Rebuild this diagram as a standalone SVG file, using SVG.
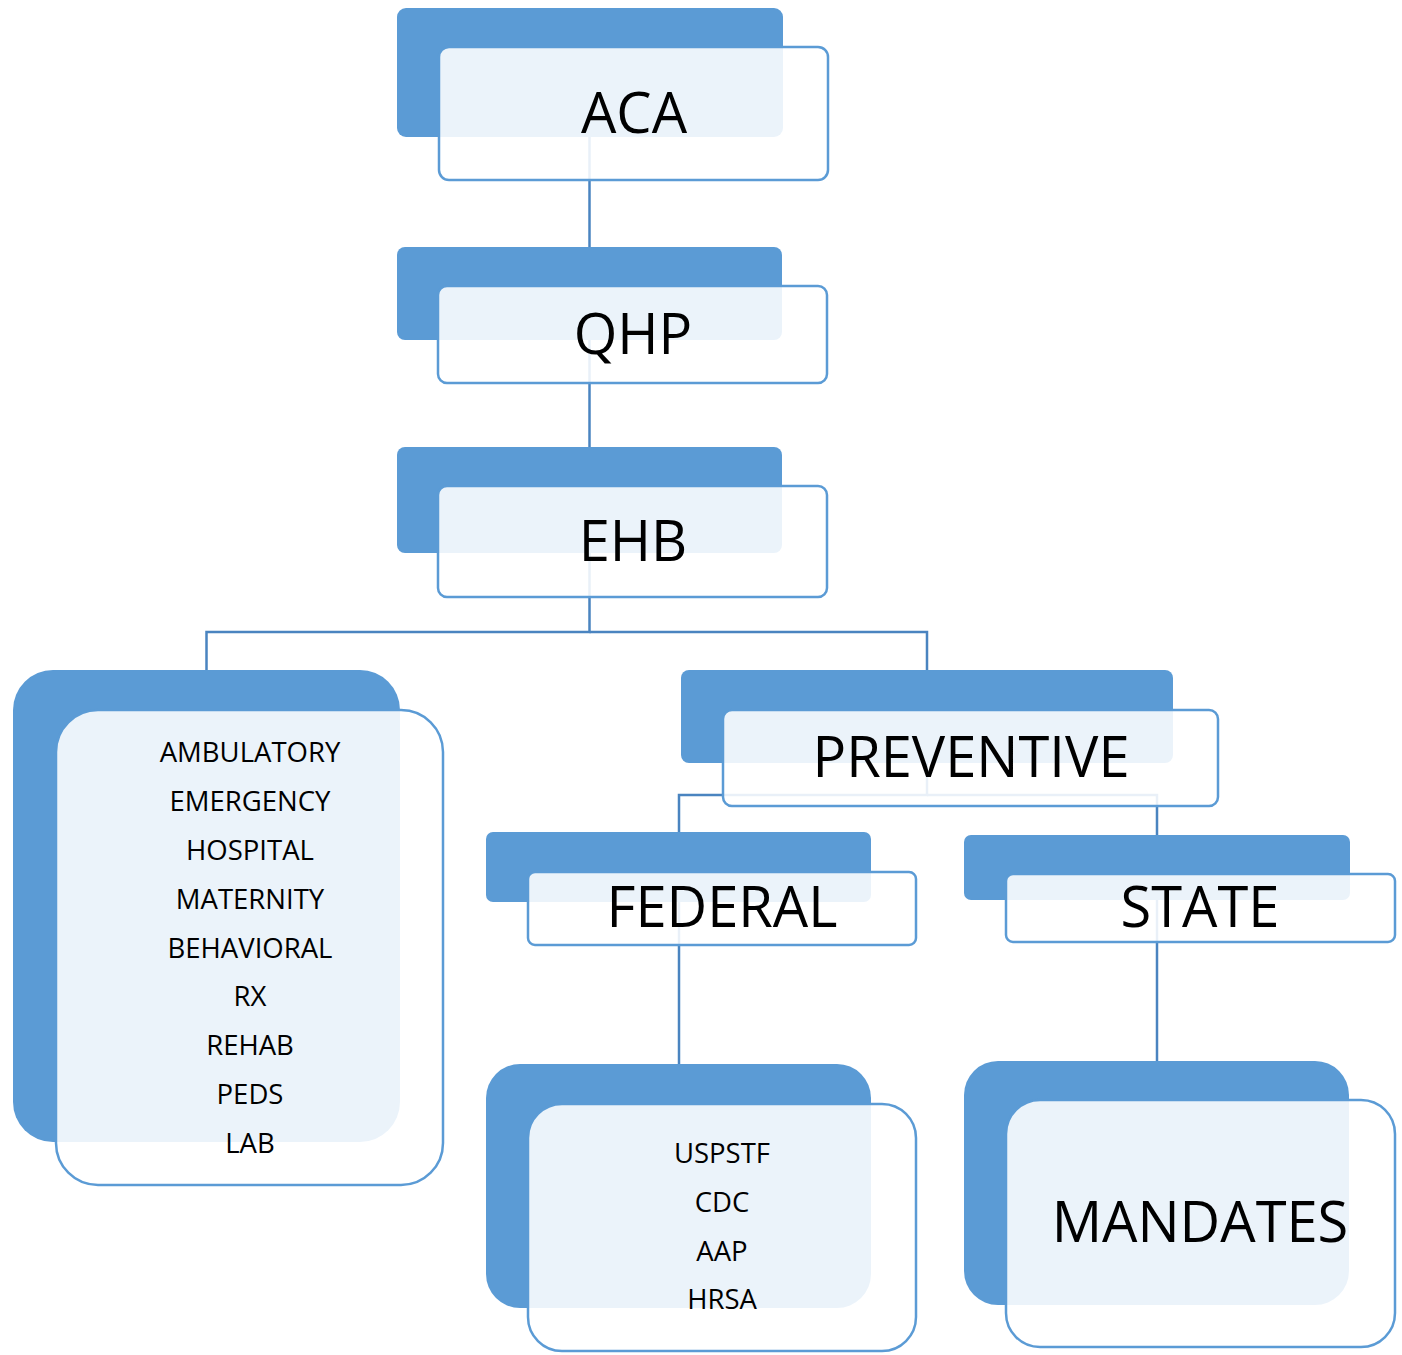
<svg xmlns="http://www.w3.org/2000/svg" width="1402" height="1355" viewBox="0 0 1402 1355">
  <style>
    .back { fill: #5B9BD5; }
    .front { fill: #FFFFFF; fill-opacity: 0.88; stroke: #5B9BD5; stroke-width: 2.5; }
    .link { fill: none; stroke: #4A84C0; stroke-width: 2.5; }
    .title { font-family: "Open Sans", "Noto Sans", "Liberation Sans", sans-serif; font-size: 56px; fill: #000000; text-anchor: middle; }
    .item { font-family: "Open Sans", "Noto Sans", "Liberation Sans", sans-serif; font-size: 27.5px; fill: #000000; text-anchor: middle; }
  </style>
  <rect width="1402" height="1355" fill="#FFFFFF"/>

  <!-- connectors sit beneath the boxes and show faintly through the front panels -->
  <g id="connectors">
    <path class="link" d="M589.5 137 V247"/>
    <path class="link" d="M589.5 340 V447"/>
    <path class="link" d="M589.5 553 V632 H206.5 V670"/>
    <path class="link" d="M589.5 632 H927 V670"/>
    <path class="link" d="M927 763 V795 H679 V832"/>
    <path class="link" d="M927 795 H1157 V835"/>
    <path class="link" d="M679 902 V1064"/>
    <path class="link" d="M1157 900 V1061"/>
  </g>

  <g id="node-aca">
    <rect class="back" x="397" y="8" width="386" height="129" rx="9"/>
    <rect class="front" x="439" y="47" width="389" height="133" rx="10"/>
    <text class="title" x="634" y="133">ACA</text>
  </g>

  <g id="node-qhp">
    <rect class="back" x="397" y="247" width="385" height="93" rx="8"/>
    <rect class="front" x="438" y="286" width="389" height="97" rx="9"/>
    <text class="title" x="633" y="354">QHP</text>
  </g>

  <g id="node-ehb">
    <rect class="back" x="397" y="447" width="385" height="106" rx="8"/>
    <rect class="front" x="438" y="486" width="389" height="111" rx="9"/>
    <text class="title" x="633" y="561">EHB</text>
  </g>

  <g id="node-benefits">
    <rect class="back" x="13" y="670" width="387" height="472" rx="40"/>
    <rect class="front" x="56" y="710" width="387" height="475" rx="42"/>
    <text class="item" x="250" y="762">AMBULATORY</text>
    <text class="item" x="250" y="811">EMERGENCY</text>
    <text class="item" x="250" y="860">HOSPITAL</text>
    <text class="item" x="250" y="909">MATERNITY</text>
    <text class="item" x="250" y="958">BEHAVIORAL</text>
    <text class="item" x="250" y="1006">RX</text>
    <text class="item" x="250" y="1055">REHAB</text>
    <text class="item" x="250" y="1104">PEDS</text>
    <text class="item" x="250" y="1153">LAB</text>
  </g>

  <g id="node-preventive">
    <rect class="back" x="681" y="670" width="492" height="93" rx="8"/>
    <rect class="front" x="723" y="710" width="495" height="96" rx="9"/>
    <text class="title" x="971" y="777">PREVENTIVE</text>
  </g>

  <g id="node-federal">
    <rect class="back" x="486" y="832" width="385" height="70" rx="7"/>
    <rect class="front" x="528" y="872" width="388" height="73" rx="7"/>
    <text class="title" x="722" y="927">FEDERAL</text>
  </g>

  <g id="node-state">
    <rect class="back" x="964" y="835" width="386" height="65" rx="7"/>
    <rect class="front" x="1006" y="874" width="389" height="68" rx="7"/>
    <text class="title" x="1200" y="927">STATE</text>
  </g>

  <g id="node-federal-sources">
    <rect class="back" x="486" y="1064" width="385" height="244" rx="34"/>
    <rect class="front" x="528" y="1104" width="388" height="247" rx="34"/>
    <text class="item" x="722" y="1163">USPSTF</text>
    <text class="item" x="722" y="1212">CDC</text>
    <text class="item" x="722" y="1261">AAP</text>
    <text class="item" x="722" y="1309">HRSA</text>
  </g>

  <g id="node-mandates">
    <rect class="back" x="964" y="1061" width="385" height="244" rx="34"/>
    <rect class="front" x="1006" y="1100" width="389" height="247" rx="34"/>
    <text class="title" x="1200" y="1242">MANDATES</text>
  </g>
</svg>
